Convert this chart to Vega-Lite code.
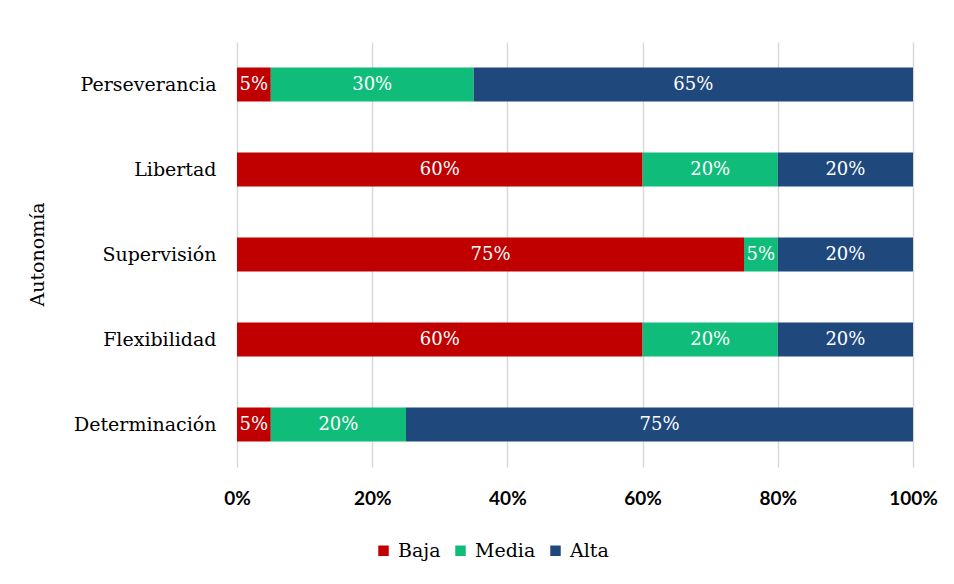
{
  "$schema": "https://vega.github.io/schema/vega-lite/v6.json",
  "width": 676,
  "height": 425,
  "autosize": {"type": "none"},
  "padding": {"left": 237, "top": 42, "right": 41, "bottom": 117},
  "background": "white",
  "config": {"view": {"stroke": null}},
  "data": {
    "values": [
      {"cat": "Perseverancia", "nivel": "Baja", "ord": 1, "p": 0.05},
      {"cat": "Perseverancia", "nivel": "Media", "ord": 2, "p": 0.30},
      {"cat": "Perseverancia", "nivel": "Alta", "ord": 3, "p": 0.65},
      {"cat": "Libertad", "nivel": "Baja", "ord": 1, "p": 0.60},
      {"cat": "Libertad", "nivel": "Media", "ord": 2, "p": 0.20},
      {"cat": "Libertad", "nivel": "Alta", "ord": 3, "p": 0.20},
      {"cat": "Supervisión", "nivel": "Baja", "ord": 1, "p": 0.75},
      {"cat": "Supervisión", "nivel": "Media", "ord": 2, "p": 0.05},
      {"cat": "Supervisión", "nivel": "Alta", "ord": 3, "p": 0.20},
      {"cat": "Flexibilidad", "nivel": "Baja", "ord": 1, "p": 0.60},
      {"cat": "Flexibilidad", "nivel": "Media", "ord": 2, "p": 0.20},
      {"cat": "Flexibilidad", "nivel": "Alta", "ord": 3, "p": 0.20},
      {"cat": "Determinación", "nivel": "Baja", "ord": 1, "p": 0.05},
      {"cat": "Determinación", "nivel": "Media", "ord": 2, "p": 0.20},
      {"cat": "Determinación", "nivel": "Alta", "ord": 3, "p": 0.75}
    ]
  },
  "transform": [
    {"stack": "p", "groupby": ["cat"], "sort": [{"field": "ord"}], "as": ["p0", "p1"], "offset": "normalize"},
    {"calculate": "(datum.p0 + datum.p1) / 2", "as": "mid"}
  ],
  "encoding": {
    "y": {
      "field": "cat",
      "type": "nominal",
      "sort": ["Perseverancia", "Libertad", "Supervisión", "Flexibilidad", "Determinación"],
      "scale": {"paddingInner": 0.6, "paddingOuter": 0.3},
      "axis": {
        "labelFont": "DejaVu Serif",
        "labelFontSize": 19,
        "labelColor": "#000000",
        "labelPadding": 21,
        "ticks": false,
        "domain": false,
        "title": "Autonomía",
        "titleFont": "DejaVu Serif",
        "titleFontSize": 19,
        "titleFontWeight": "normal",
        "titleColor": "#000000",
        "titleX": -200,
        "titleY": 212,
        "titleAngle": 270,
        "titleAlign": "center",
        "titleBaseline": "middle"
      }
    }
  },
  "layer": [
    {
      "mark": {"type": "bar"},
      "encoding": {
        "x": {
          "field": "p0",
          "type": "quantitative",
          "scale": {"domain": [0, 1]},
          "axis": {
            "values": [0, 0.2, 0.4, 0.6, 0.8, 1],
            "format": ".0%",
            "title": null,
            "labelFont": "Lato",
            "labelFontWeight": "bold",
            "labelFontSize": 19,
            "labelColor": "#000000",
            "labelPadding": 22,
            "labelFlush": false,
            "labelOverlap": false,
            "ticks": false,
            "domain": false,
            "grid": true,
            "gridColor": "#d9d9d9",
            "gridWidth": 1.5
          }
        },
        "x2": {"field": "p1"},
        "color": {
          "field": "nivel",
          "type": "nominal",
          "scale": {"domain": ["Baja", "Media", "Alta"], "range": ["#C00000", "#10BC79", "#1F497D"]},
          "legend": {
            "title": null,
            "orient": "none",
            "direction": "horizontal",
            "legendX": 137,
            "legendY": 499,
            "padding": 0,
            "symbolType": "square",
            "symbolSize": 110,
            "symbolStrokeWidth": 0,
            "labelFont": "DejaVu Serif",
            "labelFontSize": 19,
            "labelColor": "#000000",
            "labelOffset": 5,
            "columnPadding": 10
          }
        }
      }
    },
    {
      "mark": {"type": "text", "color": "white", "font": "DejaVu Serif", "fontSize": 18, "align": "center", "baseline": "middle"},
      "encoding": {
        "x": {"field": "mid", "type": "quantitative"},
        "text": {"field": "p", "type": "quantitative", "format": ".0%"}
      }
    }
  ]
}
